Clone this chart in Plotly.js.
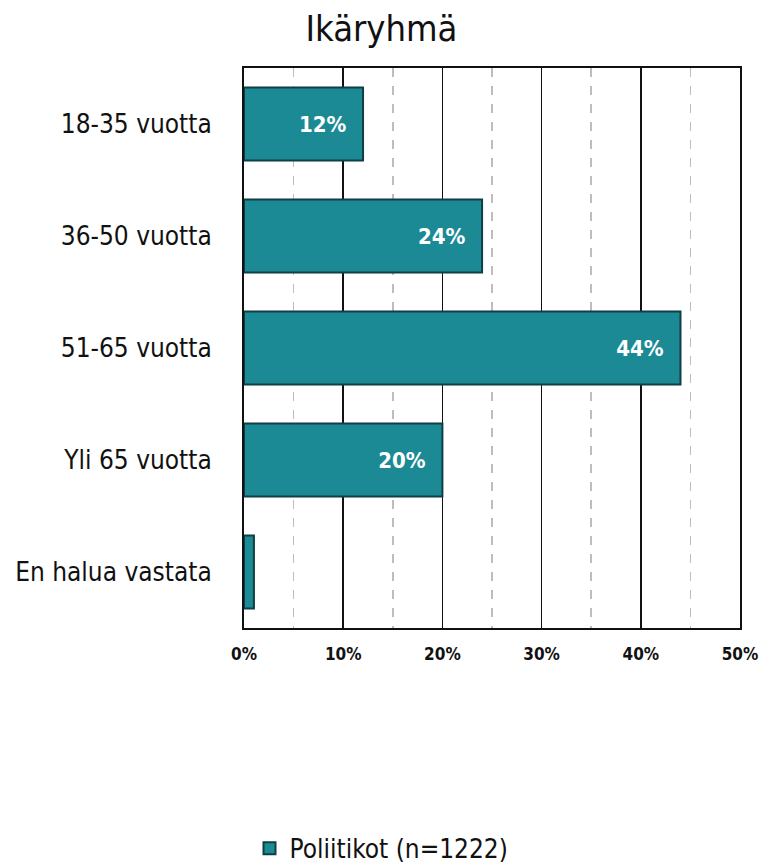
<!DOCTYPE html>
<html>
<head>
<meta charset="utf-8">
<script src="https://cdn.plot.ly/plotly-3.0.1.min.js"></script>
<style>html,body{margin:0;padding:0;background:#fff;}#chart{width:763px;height:864px;}</style>
</head>
<body>
<div id="chart"></div>
<script>
const categories = ['18-35 vuotta', '36-50 vuotta', '51-65 vuotta', 'Yli 65 vuotta', 'En halua vastata'];
const values = [12, 24, 44, 20, 1];
const labels = ['12%', '24%', '44%', '20%', ''];
const seriesName = 'Poliitikot (n=1222)';
const xTickVals = [0, 10, 20, 30, 40, 50];
const xTickText = ['0%', '10%', '20%', '30%', '40%', '50%'];

const FONT = '"DejaVu Sans Condensed", "DejaVu Sans", sans-serif';

const paddedLabels = labels.map(l => l ? l + '\u00a0\u00a0' : '');

const trace = {
  type: 'bar',
  orientation: 'h',
  x: values,
  y: categories,
  name: seriesName,
  text: paddedLabels,
  textposition: 'inside',
  insidetextanchor: 'end',
  textangle: 0,
  textfont: {family: FONT, size: 22, color: '#ffffff', weight: 'bold'},
  marker: {color: '#1b8a94', line: {color: '#0e3f44', width: 2}},
  showlegend: true,
  cliponaxis: false
};

const layout = {
  width: 763,
  height: 864,
  paper_bgcolor: '#ffffff',
  plot_bgcolor: '#ffffff',
  margin: {l: 244, r: 23, t: 68, b: 236},
  title: {text: 'Ikäryhmä', font: {family: FONT, size: 36, color: '#111'}, x: 0.5, xanchor: 'center', y: 0.967, yanchor: 'middle', xref: 'container', yref: 'container'},
  bargap: 0.35,
  font: {family: FONT, color: '#111'},
  xaxis: {
    range: [0, 50],
    tickvals: xTickVals,
    ticktext: xTickText,
    tickfont: {family: FONT, size: 17, color: '#111', weight: 'bold'},
    showgrid: true,
    gridcolor: '#111',
    gridwidth: 1.5,
    zeroline: false,
    showline: true,
    linecolor: '#111',
    linewidth: 2,
    mirror: true,
    ticks: '',
    ticklen: 0,
    ticklabelstandoff: 10,
    minor: {dtick: 5, tick0: 5, showgrid: true, gridcolor: '#bdbdbd', griddash: 'dash', gridwidth: 1.5},
    fixedrange: true
  },
  yaxis: {
    autorange: 'reversed',
    tickfont: {family: FONT, size: 26, color: '#111'},
    showline: true,
    linecolor: '#111',
    linewidth: 2,
    mirror: true,
    ticks: '',
    ticklabelstandoff: 25,
    showgrid: false,
    fixedrange: true
  },
  legend: {
    orientation: 'h',
    xref: 'container',
    yref: 'container',
    x: 0.5,
    xanchor: 'center',
    y: 0.018,
    yanchor: 'middle',
    font: {family: FONT, size: 26, color: '#111'},
    itemwidth: 30
  }
};

Plotly.newPlot('chart', [trace], layout, {displayModeBar: false, staticPlot: true});
</script>
</body>
</html>
